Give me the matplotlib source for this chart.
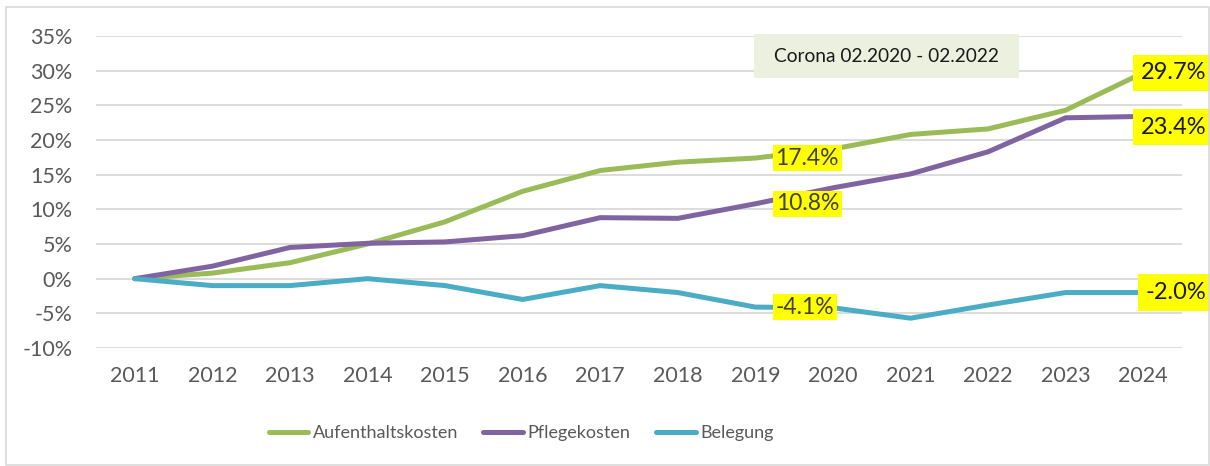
import matplotlib
matplotlib.use("Agg")
import matplotlib.pyplot as plt
from matplotlib.patches import Rectangle
from matplotlib.ticker import FuncFormatter

plt.rcParams['font.family'] = ['Lato', 'DejaVu Sans']

years = [2011, 2012, 2013, 2014, 2015, 2016, 2017, 2018, 2019, 2020, 2021, 2022, 2023, 2024]
aufenthalt = [0, 0.8, 2.3, 5.0, 8.2, 12.6, 15.6, 16.8, 17.4, 18.7, 20.8, 21.6, 24.3, 29.7]
pflege = [0, 1.8, 4.5, 5.1, 5.3, 6.2, 8.8, 8.7, 10.8, 13.1, 15.1, 18.3, 23.2, 23.4]
belegung = [0, -1.0, -1.0, 0, -1.0, -3.0, -1.0, -2.0, -4.1, -4.2, -5.7, -3.8, -2.0, -2.0]

names = ['Aufenthaltskosten', 'Pflegekosten', 'Belegung']
colors = ['#9BBB59', '#8064A2', '#4BACC6']

fig = plt.figure(figsize=(12.1, 4.66), dpi=100)
W, H = 1210, 466
ax = fig.add_axes([96 / W, 1 - 348 / H, (1182 - 96) / W, (348 - 36) / H])

series = [aufenthalt, pflege, belegung]
for vals, name, col in zip(series, names, colors):
    ax.plot(years, vals, color=col, lw=3.6, label=name, solid_capstyle='round', zorder=3)

ax.set_xlim(2010.5, 2024.5)
ax.set_ylim(-10, 35)
ax.set_yticks(range(-10, 36, 5))
ax.set_xticks(years)
ax.yaxis.set_major_formatter(FuncFormatter(lambda v, p: f"{int(v)}%"))
ax.grid(axis='y', color='#D9D9D9', lw=1.3)
ax.set_axisbelow(True)
for s in ax.spines.values():
    s.set_visible(False)
ax.tick_params(axis='y', length=0, pad=17, labelsize=15.5, labelcolor='#595959')
ax.tick_params(axis='x', length=0, pad=13, labelsize=15.5, labelcolor='#595959')

# data labels (year, series, offset in pixels, font size, box pad, text colour)
labels = [
    (2019, aufenthalt, (52, 0), 16.5, 0.12, '#404040'),
    (2019, pflege, (52, 0), 16.5, 0.12, '#404040'),
    (2019, belegung, (50, 0), 16.5, 0.12, '#404040'),
    (2024, aufenthalt, (30, 0), 17, 0.32, '#1a1a1a'),
    (2024, pflege, (30, -11), 17, 0.32, '#1a1a1a'),
    (2024, belegung, (33, 0), 17, 0.32, '#1a1a1a'),
]
for yr, vals, off, fs, pad, tc in labels:
    v = vals[years.index(yr)]
    ax.annotate(f"{v:.1f}%", (yr, v), xytext=off, textcoords='offset pixels',
                ha='center', va='center', fontsize=fs, color=tc, zorder=5,
                annotation_clip=False,
                bbox=dict(boxstyle=f'square,pad={pad}', fc='#FFFF00', ec='none'))

# corona box
fig.patches.append(Rectangle((754 / W, 1 - 78 / H), (1019 - 754) / W, 44 / H,
                             transform=fig.transFigure, fc='#EBF1DE', ec='none', zorder=4))
fig.text(886.5 / W, 1 - 56 / H, 'Corona 02.2020 - 02.2022', ha='center', va='center',
         fontsize=13.8, color='#1a1a1a', zorder=5)

# chart border
fig.patches.append(Rectangle((6 / W, 1 / H), (1209 - 6) / W, (465 - 7) / H,
                             transform=fig.transFigure, fill=False, ec='#D9D9D9', lw=1.2))

leg = fig.legend(loc='center', bbox_to_anchor=(521 / W, 1 - 433 / H), ncol=3, frameon=False,
                 fontsize=13, handlelength=2.2, handletextpad=0.25, columnspacing=1.4)
for t in leg.get_texts():
    t.set_color('#595959')

fig.savefig('out.png', dpi=100)
